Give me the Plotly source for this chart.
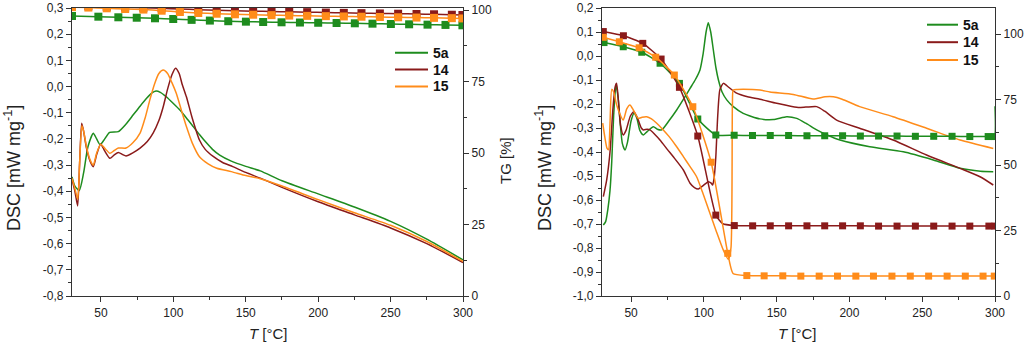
import plotly.graph_objects as go

# ---------------- colours ----------------
GREEN = "#1e8c1e"
WINE = "#8a1a1a"
ORANGE = "#ff8c1a"
AXIS = "#333333"
FONT = "Liberation Sans, Arial, sans-serif"

# ---------------- left panel: DSC curves ----------------
l5a_T = [30, 32, 35, 38, 41, 44.7, 47, 49.3, 52, 56, 62, 67, 72.3, 77, 81.5, 85, 88, 91,
         95.3, 100, 104.5, 109, 113.7, 118, 123, 127, 132, 140, 150, 160, 175, 200, 225,
         250, 275, 300]
l5a_dsc = [-0.345, -0.38, -0.397, -0.33, -0.23, -0.178, -0.2, -0.222, -0.205, -0.175,
           -0.172, -0.145, -0.108, -0.075, -0.045, -0.025, -0.017, -0.022, -0.04, -0.065,
           -0.09, -0.12, -0.153, -0.183, -0.216, -0.24, -0.262, -0.285, -0.305, -0.322,
           -0.36, -0.41, -0.46, -0.515, -0.583, -0.662]

l14_T = [30, 32, 33.9, 35.2, 36.7, 38, 40, 42.5, 44.7, 47, 49.8, 52.5, 56.2, 59, 62, 65,
         67.3, 72, 77, 82, 86, 90, 93, 96, 99, 101.5, 104, 106, 109, 113, 118, 122, 127.5,
         134, 141, 150, 160, 175, 200, 225, 250, 275, 300]
l14_dsc = [-0.355, -0.4, -0.456, -0.3, -0.14, -0.17, -0.235, -0.285, -0.306, -0.26,
           -0.219, -0.245, -0.274, -0.262, -0.252, -0.26, -0.265, -0.253, -0.235, -0.21,
           -0.178, -0.13, -0.077, -0.01, 0.045, 0.07, 0.05, 0.01, -0.039, -0.12, -0.204,
           -0.24, -0.267, -0.29, -0.306, -0.328, -0.35, -0.385, -0.44, -0.49, -0.54,
           -0.6, -0.672]

l15_T = [30, 32, 34, 35.2, 36.8, 38, 40, 42.5, 44.7, 47, 49.8, 52.5, 56.2, 59, 62, 67.3,
         72, 77, 80.5, 83.8, 87, 90, 93, 96, 99, 102, 105.5, 109, 113, 118, 124, 130, 140,
         150, 160, 175, 200, 225, 250, 275, 300]
l15_dsc = [-0.35, -0.39, -0.43, -0.3, -0.15, -0.17, -0.23, -0.28, -0.3, -0.255, -0.22,
           -0.235, -0.255, -0.245, -0.235, -0.235, -0.215, -0.178, -0.12, -0.05, 0.01,
           0.05, 0.063, 0.05, 0.015, -0.026, -0.09, -0.153, -0.215, -0.268, -0.295,
           -0.312, -0.325, -0.34, -0.352, -0.38, -0.432, -0.482, -0.53, -0.592, -0.668]

# ---------------- left panel: TG curves (1 = square marker drawn) ----------------
l5a_tg_T = [30, 48.2, 62, 74.7, 87.3, 99.9, 112.6, 125.2, 137.9, 150.1, 162, 174.7, 187.4,
            200, 212.7, 225.3, 237.5, 250.2, 262.8, 275.5, 287.9, 299.6]
l5a_tg = [97.9, 97.66, 97.45, 97.3, 97.1, 96.85, 96.55, 96.3, 96.08, 95.92, 95.8, 95.7,
          95.62, 95.54, 95.45, 95.35, 95.22, 95.1, 95.0, 94.88, 94.78, 94.65]
l5a_tg_mark = [1] * len(l5a_tg_T)

l14_tg_T = [30, 41.3, 54, 66.7, 79.3, 91.9, 104.5, 117.2, 129.9, 142.5, 155.1, 167.8, 180,
            192.4, 205.3, 217.7, 229.9, 242.6, 255.2, 267.9, 280, 292.3, 299.6]
l14_tg = [101.5, 101.3, 101.1, 100.9, 100.8, 100.6, 100.35, 100.1, 99.9, 99.75, 99.6,
          99.45, 99.35, 99.25, 99.1, 99.0, 98.9, 98.8, 98.7, 98.6, 98.5, 98.35, 98.25]
l14_tg_mark = [1] * len(l14_tg_T)

l15_tg_T = l14_tg_T
l15_tg = [101.0, 100.85, 100.6, 100.35, 100.15, 99.75, 99.3, 98.95, 98.7, 98.5, 98.35,
          98.2, 98.05, 97.95, 97.85, 97.75, 97.65, 97.55, 97.45, 97.35, 97.25, 97.15, 97.05]
l15_tg_mark = [1] * len(l15_tg_T)

# ---------------- right panel: DSC curves ----------------
r5a_T = [30.9, 32.5, 34, 35.5, 36.7, 38, 39.6, 41, 42.5, 44, 45.8, 47.5, 50, 52, 54, 56,
         58.4, 61, 65.3, 68, 71, 76, 81.3, 86, 90.5, 94, 97.3, 99.5, 101.5, 103, 104.7,
         106.5, 108.3, 110, 112.5, 115.7, 120, 127, 138.5, 147.7, 156.9, 163.8, 170, 177.5,
         185, 193.5, 214, 237, 257.6, 276, 290, 298.8]
r5a_dsc = [-0.704, -0.69, -0.64, -0.56, -0.44, -0.25, -0.12, -0.17, -0.28, -0.365, -0.392,
           -0.36, -0.27, -0.239, -0.26, -0.31, -0.329, -0.315, -0.295, -0.305, -0.308,
           -0.27, -0.225, -0.18, -0.135, -0.1, -0.058, 0.01, 0.1, 0.139, 0.1, 0.025, -0.05,
           -0.1, -0.15, -0.183, -0.21, -0.239, -0.262, -0.265, -0.253, -0.26, -0.28,
           -0.308, -0.33, -0.35, -0.378, -0.399, -0.433, -0.468, -0.48, -0.482]

r14_T = [30.9, 33.2, 35.5, 37.5, 39, 40, 41.2, 42.8, 44.6, 46.5, 49.5, 52, 54.5, 57, 58.4,
         61, 63, 66, 69.8, 75, 79, 85.9, 90.5, 93.5, 96.2, 99.5, 103, 105, 106, 107, 108.2,
         109.5, 111, 113.4, 116, 122.5, 130, 138.5, 150, 163.8, 170, 177.5, 183, 191.2,
         207, 230, 253, 276, 289.7, 298.8]
r14_dsc = [-0.586, -0.517, -0.4, -0.22, -0.13, -0.114, -0.18, -0.29, -0.329, -0.31, -0.25,
           -0.232, -0.26, -0.3, -0.308, -0.305, -0.308, -0.325, -0.35, -0.39, -0.42,
           -0.475, -0.53, -0.548, -0.554, -0.54, -0.524, -0.53, -0.5375, -0.51, -0.42,
           -0.25, -0.14, -0.114, -0.125, -0.155, -0.17, -0.18, -0.197, -0.214, -0.213,
           -0.211, -0.23, -0.267, -0.301, -0.35, -0.4125, -0.468, -0.503, -0.5375]

r15_T = [30.5, 32, 33.5, 34.5, 35.5, 36.7, 38, 39.5, 41.2, 44.6, 47, 49.2, 51.5, 54.9,
         57.5, 60.7, 64, 67.6, 72.1, 76, 81.3, 86, 90.5, 95, 99.5, 104.2, 108.5, 113.3,
         116.8, 118.6, 119.6, 120.2, 123, 127, 138.5, 145.4, 161.4, 175, 183.2, 189, 195,
         207, 230, 253, 276, 298.8]
r15_dsc = [-0.28, -0.34, -0.385, -0.39, -0.28, -0.139, -0.15, -0.19, -0.225, -0.267,
           -0.22, -0.204, -0.225, -0.26, -0.255, -0.253, -0.262, -0.28, -0.308, -0.335,
           -0.378, -0.42, -0.461, -0.503, -0.575, -0.656, -0.73, -0.808, -0.847, -0.8,
           -0.2, -0.142, -0.14, -0.139, -0.142, -0.15, -0.16, -0.179, -0.17, -0.17, -0.18,
           -0.211, -0.253, -0.301, -0.35, -0.385]

# ---------------- right panel: TG curves ----------------
r5a_tg_T = [31.4, 44.6, 57.3, 69.9, 83.2, 95.8, 108.2, 120.8, 133.4, 145.6, 158.2, 170.8,
            183, 195.3, 207.5, 220, 232.7, 245.3, 257.9, 270.5, 282.7, 295.3, 299.6, 300]
r5a_tg = [96.8, 95.2, 93.1, 88.9, 81.2, 67.6, 61.5, 61.4, 61.3, 61.3, 61.3, 61.2, 61.2,
          61.2, 61.1, 61.1, 61.1, 61.0, 61.0, 61.0, 60.9, 60.9, 60.9, 72.5]
r5a_tg_mark = [1] * 23 + [0]

r14_tg_T = [30.9, 44.7, 58, 70.6, 83.2, 95.8, 108.2, 113, 120.9, 133.5, 145.6, 158.2,
            170.8, 183, 195.3, 207.5, 220, 232.7, 245.3, 257.9, 270.5, 282.7, 295.8, 300]
r14_tg = [101.0, 99.4, 96.5, 90.5, 79.7, 61.1, 30.9, 27.6, 26.9, 26.8, 26.8, 26.8, 26.8,
          26.8, 26.8, 26.8, 26.7, 26.7, 26.7, 26.7, 26.7, 26.7, 26.7, 26.7]
r14_tg_mark = [1, 1, 1, 1, 1, 1, 1, 0, 1, 1, 1, 1, 1, 1, 1, 1, 1, 1, 1, 1, 1, 1, 1, 1]

r15_tg_T = [30.9, 41.9, 55.5, 66.9, 79.7, 92.4, 105, 116.4, 120, 129.5, 141.4, 154.2,
            166.6, 179.2, 191.8, 204.4, 216.5, 229.2, 241.8, 254.4, 267.1, 279.6, 291.8,
            299.5]
r15_tg = [98.8, 97.1, 94.8, 91.2, 84.4, 72.3, 51.1, 16.3, 8.6, 7.8, 7.7, 7.7, 7.6, 7.6,
          7.6, 7.6, 7.6, 7.6, 7.6, 7.6, 7.6, 7.6, 7.6, 7.6]
r15_tg_mark = [1, 1, 1, 1, 1, 1, 1, 1, 0, 1, 1, 1, 1, 1, 1, 1, 1, 1, 1, 1, 1, 1, 1, 1]

# ---------------- axis ticks ----------------
x_ticks = [50, 100, 150, 200, 250, 300]
l_dsc_ticks = [-0.8, -0.7, -0.6, -0.5, -0.4, -0.3, -0.2, -0.1, 0.0, 0.1, 0.2, 0.3]
l_dsc_text = ["-0,8", "-0,7", "-0,6", "-0,5", "-0,4", "-0,3", "-0,2", "-0,1", "0,0",
              "0,1", "0,2", "0,3"]
r_dsc_ticks = [-1.0, -0.9, -0.8, -0.7, -0.6, -0.5, -0.4, -0.3, -0.2, -0.1, 0.0, 0.1, 0.2]
r_dsc_text = ["-1,0", "-0,9", "-0,8", "-0,7", "-0,6", "-0,5", "-0,4", "-0,3", "-0,2",
              "-0,1", "0,0", "0,1", "0,2"]
tg_ticks = [0, 25, 50, 75, 100]

names = ["5a", "14", "15"]
colors = [GREEN, WINE, ORANGE]

W, H = 1024, 345


def px(xp):
    return xp / W


def py(yp):
    return 1 - yp / H


fig = go.Figure()

panels = [
    dict(xa="x", ya="y", ya_tg="y2", msize=8,
         legend_x=(395, 428), legend_y=[52.7, 69.5, 86.5],
         dsc=[(l5a_T, l5a_dsc), (l14_T, l14_dsc), (l15_T, l15_dsc)],
         tg=[(l5a_tg_T, l5a_tg, l5a_tg_mark), (l14_tg_T, l14_tg, l14_tg_mark),
             (l15_tg_T, l15_tg, l15_tg_mark)]),
    dict(xa="x2", ya="y3", ya_tg="y4", msize=7,
         legend_x=(927, 958), legend_y=[24.7, 42.2, 60],
         dsc=[(r5a_T, r5a_dsc), (r14_T, r14_dsc), (r15_T, r15_dsc)],
         tg=[(r5a_tg_T, r5a_tg, r5a_tg_mark), (r14_tg_T, r14_tg, r14_tg_mark),
             (r15_tg_T, r15_tg, r15_tg_mark)]),
]

shapes = []
legend_labels = []
for p in panels:
    for (T, tg, mark), c in zip(p["tg"], colors):
        fig.add_trace(go.Scatter(
            x=T, y=tg, mode="lines+markers", xaxis=p["xa"], yaxis=p["ya_tg"],
            line=dict(color=c, width=1.5, shape="spline", smoothing=0.5),
            marker=dict(symbol="square", color=c, opacity=1,
                        size=[p["msize"] * m for m in mark], line=dict(width=0)),
            showlegend=False, hoverinfo="skip"))
    for (T, v), c, n in zip(p["dsc"], colors, names):
        fig.add_trace(go.Scatter(
            x=T, y=v, mode="lines", name=n, xaxis=p["xa"], yaxis=p["ya"],
            showlegend=False,
            line=dict(color=c, width=1.5, shape="spline", smoothing=0.6)))
    # key: short coloured line followed by the bold sample label
    x0, x1 = p["legend_x"]
    for yk, c, n in zip(p["legend_y"], colors, names):
        shapes.append(dict(type="line", xref="paper", yref="paper",
                           x0=px(x0), x1=px(x1), y0=py(yk), y1=py(yk),
                           line=dict(color=c, width=2)))
        legend_labels.append(dict(text="<b>%s</b>" % n, x=px(x1 + 3), y=py(yk),
                                  xanchor="left", yanchor="middle",
                                  font=dict(family=FONT, size=14, color="#111")))

axis_common = dict(showgrid=False, zeroline=False, showline=True, linecolor=AXIS,
                   linewidth=1.3, ticks="outside", ticklen=5, tickwidth=1.1,
                   tickcolor=AXIS, automargin=False,
                   tickfont=dict(family=FONT, size=12, color="#222"))

x_common = dict(axis_common, range=[30, 300], tickmode="array", tickvals=x_ticks,
                mirror=True,
                minor=dict(tickmode="linear", tick0=25, dtick=50, ticks="outside",
                           ticklen=3, tickcolor=AXIS))

tg_common = dict(axis_common, tickmode="array", tickvals=tg_ticks, side="right",
                 minor=dict(tickmode="linear", tick0=12.5, dtick=25, ticks="outside",
                            ticklen=3, tickcolor=AXIS))

dom_y = [py(296), py(8)]

fig.update_layout(
    width=W, height=H, margin=dict(l=0, r=0, t=0, b=0, autoexpand=False),
    paper_bgcolor="white", plot_bgcolor="white", showlegend=False,
    xaxis=dict(x_common, domain=[px(72), px(463)], anchor="y"),
    yaxis=dict(axis_common, domain=dom_y, range=[-0.8, 0.3], tickmode="array",
               tickvals=l_dsc_ticks, ticktext=l_dsc_text, anchor="x",
               minor=dict(tickmode="linear", tick0=0.05, dtick=0.1, ticks="outside",
                          ticklen=3, tickcolor=AXIS)),
    yaxis2=dict(tg_common, range=[0, 100.7], overlaying="y", anchor="x"),
    xaxis2=dict(x_common, domain=[px(602), px(995)], anchor="y3"),
    yaxis3=dict(axis_common, domain=dom_y, range=[-1.0, 0.2], tickmode="array",
                tickvals=r_dsc_ticks, ticktext=r_dsc_text, anchor="x2",
                minor=dict(tickmode="linear", tick0=0.05, dtick=0.1, ticks="outside",
                           ticklen=3, tickcolor=AXIS)),
    yaxis4=dict(tg_common, range=[0, 110], overlaying="y3", anchor="x2"),
    shapes=shapes,
)

dsc_font = dict(family=FONT, size=18, color="#222")
title_font = dict(family=FONT, size=15, color="#222")
annotations = [
    dict(text="DSC [mW mg<sup>-1</sup>]", x=px(12), y=py(168), textangle=-90,
         font=dsc_font),
    dict(text="TG [%]", x=px(505), y=py(161), textangle=-90, font=title_font),
    dict(text="DSC [mW mg<sup>-1</sup>]", x=px(543), y=py(168), textangle=-90,
         font=dsc_font),
    dict(text="<i>T</i> [°C]", x=px(268), y=py(333), textangle=0, font=title_font),
    dict(text="<i>T</i> [°C]", x=px(797), y=py(333), textangle=0, font=title_font),
]
for a in annotations:
    fig.add_annotation(xref="paper", yref="paper", showarrow=False,
                       xanchor="center", yanchor="middle", **a)
for a in legend_labels:
    fig.add_annotation(xref="paper", yref="paper", showarrow=False, **a)

fig.write_html("out.html")
